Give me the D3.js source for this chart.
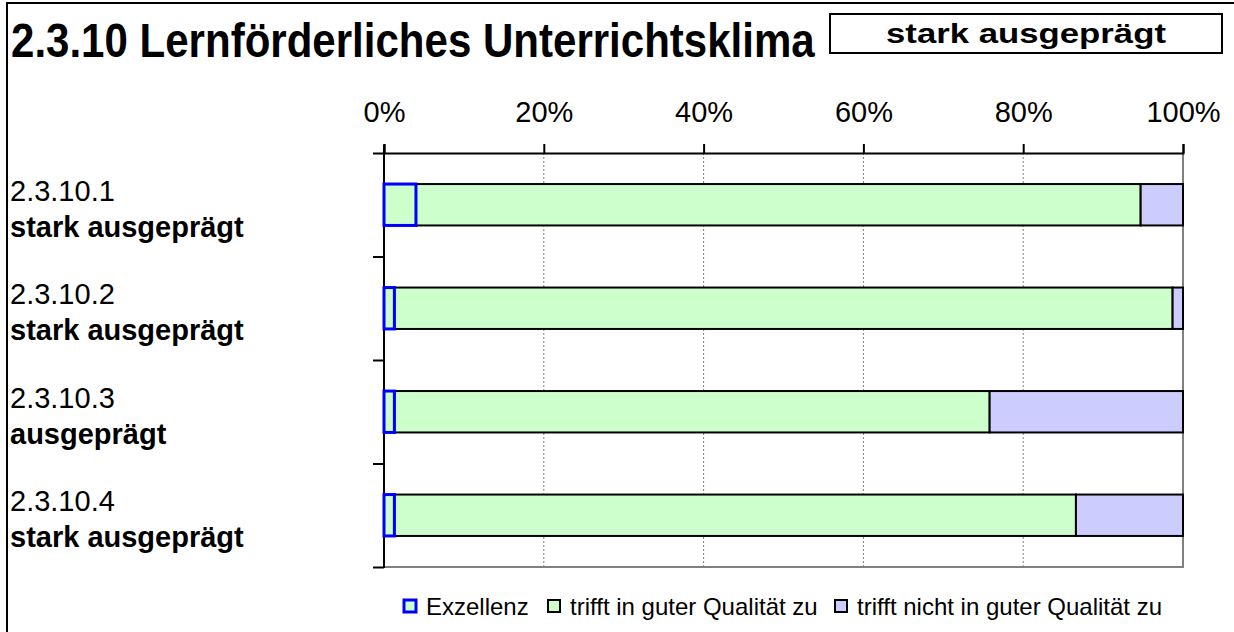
<!DOCTYPE html>
<html>
<head>
<meta charset="utf-8">
<script src="https://cdn.jsdelivr.net/npm/d3@7"></script>
<style>
  body { margin: 0; background: #fff; }
  svg { font-family: "Liberation Sans", Arial, sans-serif; display: block; }
</style>
</head>
<body>
<svg width="1234" height="632"></svg>
<script>
// data
const categories = ["2.3.10.1", "2.3.10.2", "2.3.10.3", "2.3.10.4"];
const ratings = ["stark ausgeprägt", "stark ausgeprägt", "ausgeprägt", "stark ausgeprägt"];
const excellence = [4.0, 1.3, 1.3, 1.3];
const goodQuality = [90.7, 97.4, 74.5, 85.3];
const notGoodQuality = [5.3, 1.3, 24.2, 13.4];
const seriesNames = ["Exzellenz", "trifft in guter Qualität zu", "trifft nicht in guter Qualität zu"];
const xTicks = [0, 20, 40, 60, 80, 100];

const svg = d3.select("svg");

// outer frame
svg.append("rect").attr("x", 7).attr("y", 3).attr("width", 1240).attr("height", 640)
  .attr("fill", "none").attr("stroke", "#000").attr("stroke-width", 2);

// condensed text: squeeze horizontally to a target width
function condensed(sel, x0, y0, width, anchor) {
  const natural = sel.node().getComputedTextLength();
  const sx = width / natural;
  const dx = anchor === "middle" ? x0 - width / 2 : x0;
  sel.attr("transform", `translate(${dx},${y0}) scale(${sx},1)`);
}

// title
const title = svg.append("text").attr("font-size", 48).attr("font-weight", "bold")
  .text("2.3.10 Lernförderliches Unterrichtsklima");
condensed(title, 11, 57, 804);

svg.append("rect").attr("x", 830).attr("y", 14).attr("width", 392).attr("height", 39)
  .attr("fill", "#fff").attr("stroke", "#000").attr("stroke-width", 2);
const boxText = svg.append("text").attr("font-size", 27).attr("font-weight", "bold")
  .text("stark ausgeprägt");
condensed(boxText, 1026, 43, 280, "middle");

const plotLeft = 384, plotRight = 1183, plotTop = 153, plotBottom = 567;

const x = d3.scaleLinear().domain([0, 100]).range([plotLeft, plotRight]);
const y = d3.scaleBand().domain(categories).range([plotTop, plotBottom]).paddingInner(0.6).paddingOuter(0.3);
const yEdges = d3.scaleLinear().domain([0, categories.length]).range([plotTop, plotBottom]);

// gridlines
svg.append("g").selectAll("line").data(xTicks.slice(1, -1)).join("line")
  .attr("x1", d => x(d)).attr("x2", d => x(d)).attr("y1", plotTop).attr("y2", plotBottom)
  .attr("stroke", "#808080").attr("stroke-dasharray", "2,2");

// plot area border (right + bottom)
svg.append("path")
  .attr("d", `M${plotRight},${plotTop}V${plotBottom}H${plotLeft}`)
  .attr("fill", "none").attr("stroke", "#808080").attr("stroke-width", 2);

// top axis
const xAxis = svg.append("g").attr("transform", `translate(0,${plotTop})`)
  .call(d3.axisTop(x).tickValues(xTicks).tickSize(9).tickPadding(22).tickFormat(d => d + "%"));
xAxis.select(".domain").attr("stroke-width", 2);
xAxis.selectAll(".tick line").attr("stroke-width", 2);
xAxis.selectAll("text").attr("font-size", 29).attr("fill", "#000")
  .attr("font-family", "Liberation Sans, Arial, sans-serif");

// left axis
const yAxis = svg.append("g").attr("transform", `translate(${plotLeft},0)`)
  .call(d3.axisLeft(yEdges).ticks(categories.length).tickSize(11).tickFormat(""));
yAxis.select(".domain").attr("d", `M0,${plotTop - 8}V${plotBottom + 1}`).attr("stroke-width", 2);
yAxis.selectAll(".tick line").attr("stroke-width", 2);

// category labels
categories.forEach((c, i) => {
  const cy = y(c) + y.bandwidth() / 2;
  svg.append("text").attr("x", 10).attr("y", cy - 4).attr("font-size", 29).text(c);
  svg.append("text").attr("x", 10).attr("y", cy + 32).attr("font-size", 29)
    .attr("font-weight", "bold").text(ratings[i]);
});

// stacked bars
const rows = categories.map((c, i) => ({ cat: c, ex: excellence[i], good: goodQuality[i], bad: notGoodQuality[i] }));
const stack = d3.stack().keys(["ex", "good", "bad"])(rows);
const fills = { ex: "#CCFFCC", good: "#CCFFCC", bad: "#CCCCFF" };
const strokes = { ex: "#0000FF", good: "#000", bad: "#000" };

// draw non-excellence first so the blue outline sits on top
[stack[1], stack[2], stack[0]].forEach(layer => {
  svg.append("g").selectAll("rect").data(layer).join("rect")
    .attr("x", d => x(d[0]))
    .attr("y", d => y(d.data.cat))
    .attr("width", d => x(d[1]) - x(d[0]))
    .attr("height", y.bandwidth())
    .attr("fill", fills[layer.key])
    .attr("stroke", strokes[layer.key])
    .attr("stroke-width", layer.key === "ex" ? 3 : 2);
});

// legend
const legendX = [404, 548, 835];
const legend = svg.append("g");
seriesNames.forEach((name, i) => {
  const key = ["ex", "good", "bad"][i];
  legend.append("rect").attr("x", legendX[i]).attr("y", 600).attr("width", 12).attr("height", 12)
    .attr("fill", fills[key]).attr("stroke", strokes[key]).attr("stroke-width", i === 0 ? 3 : 2);
  legend.append("text").attr("x", legendX[i] + 22).attr("y", 615).attr("font-size", 24).text(name);
});
</script>
</body>
</html>
